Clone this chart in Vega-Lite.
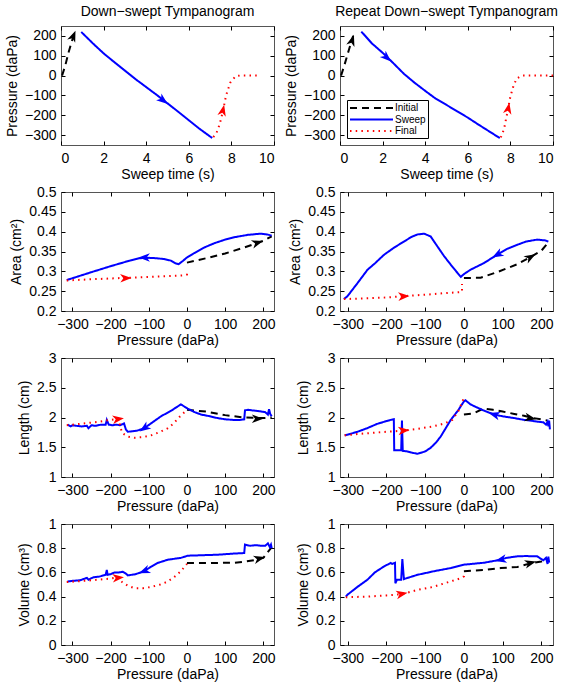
{
  "$schema": "https://vega.github.io/schema/vega-lite/v6.json",
  "padding": {"left": 4, "top": 4, "right": 6, "bottom": 4},
  "background": "white",
  "columns": 2,
  "spacing": {"row": 47, "column": 66},
  "bounds": "flush",
  "datasets": {
    "c1": [
      {"s":"Initial","x":0.05,"y":0},{"s":"Initial","x":0.2,"y":50},{"s":"Initial","x":0.35,"y":115},{"s":"Initial","x":0.5,"y":170},{"s":"Initial","x":0.65,"y":220},
      {"s":"Sweep","x":0.95,"y":220},{"s":"Sweep","x":1.5,"y":162},{"s":"Sweep","x":2,"y":112},{"s":"Sweep","x":2.5,"y":68},{"s":"Sweep","x":3,"y":25},{"s":"Sweep","x":3.5,"y":-18},{"s":"Sweep","x":4,"y":-58},{"s":"Sweep","x":4.5,"y":-98},{"s":"Sweep","x":5,"y":-140},{"s":"Sweep","x":5.5,"y":-182},{"s":"Sweep","x":6,"y":-225},{"s":"Sweep","x":6.5,"y":-268},{"s":"Sweep","x":7.1,"y":-315},
      {"s":"Final","x":7.15,"y":-310},{"s":"Final","x":7.3,"y":-290},{"s":"Final","x":7.45,"y":-245},{"s":"Final","x":7.6,"y":-180},{"s":"Final","x":7.75,"y":-100},{"s":"Final","x":7.95,"y":-35},{"s":"Final","x":8.2,"y":-3},{"s":"Final","x":8.4,"y":0},{"s":"Final","x":9.2,"y":0}
    ],
    "a1": [
      {"s":"Initial","x":0.58,"y":200,"a":-68},{"s":"Sweep","x":4.8,"y":-125,"a":38},{"s":"Final","x":7.6,"y":-175,"a":-77}
    ],
    "c2": [
      {"s":"Initial","x":0.05,"y":0},{"s":"Initial","x":0.2,"y":50},{"s":"Initial","x":0.35,"y":105},{"s":"Initial","x":0.5,"y":160},{"s":"Initial","x":0.62,"y":200},
      {"s":"Sweep","x":1.0,"y":222},{"s":"Sweep","x":1.5,"y":162},{"s":"Sweep","x":2.0,"y":115},{"s":"Sweep","x":2.5,"y":63},{"s":"Sweep","x":3.0,"y":9},{"s":"Sweep","x":3.5,"y":-36},{"s":"Sweep","x":4.0,"y":-77},{"s":"Sweep","x":4.5,"y":-117},{"s":"Sweep","x":5.0,"y":-148},{"s":"Sweep","x":5.5,"y":-180},{"s":"Sweep","x":6.0,"y":-212},{"s":"Sweep","x":6.5,"y":-247},{"s":"Sweep","x":7.0,"y":-281},{"s":"Sweep","x":7.5,"y":-315},
      {"s":"Final","x":7.55,"y":-312},{"s":"Final","x":7.7,"y":-270},{"s":"Final","x":7.85,"y":-190},{"s":"Final","x":8.0,"y":-105},{"s":"Final","x":8.15,"y":-50},{"s":"Final","x":8.3,"y":-14},{"s":"Final","x":8.55,"y":0},{"s":"Final","x":10,"y":0}
    ],
    "a2": [
      {"s":"Initial","x":0.57,"y":178,"a":-72},{"s":"Sweep","x":2.2,"y":90,"a":43},{"s":"Final","x":7.9,"y":-165,"a":-79}
    ],
    "c3": [
      {"s":"Initial","x":0,"y":0.322},{"s":"Initial","x":50,"y":0.333},{"s":"Initial","x":100,"y":0.345},{"s":"Initial","x":150,"y":0.36},{"s":"Initial","x":200,"y":0.377},{"s":"Initial","x":222,"y":0.388},
      {"s":"Sweep","x":222,"y":0.39},{"s":"Sweep","x":210,"y":0.393},{"s":"Sweep","x":194,"y":0.395},{"s":"Sweep","x":160,"y":0.392},{"s":"Sweep","x":124,"y":0.386},{"s":"Sweep","x":100,"y":0.38},{"s":"Sweep","x":72,"y":0.371},{"s":"Sweep","x":45,"y":0.36},{"s":"Sweep","x":19,"y":0.346},{"s":"Sweep","x":0,"y":0.335},{"s":"Sweep","x":-11,"y":0.326},{"s":"Sweep","x":-22,"y":0.318},{"s":"Sweep","x":-30,"y":0.32},{"s":"Sweep","x":-42,"y":0.327},{"s":"Sweep","x":-60,"y":0.331},{"s":"Sweep","x":-80,"y":0.333},{"s":"Sweep","x":-100,"y":0.334},{"s":"Sweep","x":-125,"y":0.333},{"s":"Sweep","x":-150,"y":0.327},{"s":"Sweep","x":-200,"y":0.313},{"s":"Sweep","x":-250,"y":0.298},{"s":"Sweep","x":-315,"y":0.278},
      {"s":"Final","x":-315,"y":0.277},{"s":"Final","x":-250,"y":0.28},{"s":"Final","x":-200,"y":0.282},{"s":"Final","x":-150,"y":0.284},{"s":"Final","x":-100,"y":0.286},{"s":"Final","x":-50,"y":0.288},{"s":"Final","x":-5,"y":0.29},{"s":"Final","x":0,"y":0.292},{"s":"Final","x":0,"y":0.303}
    ],
    "a3": [
      {"s":"Initial","x":185,"y":0.372,"a":-17},{"s":"Sweep","x":-112,"y":0.335,"a":180},{"s":"Final","x":-160,"y":0.283,"a":-2}
    ],
    "c4": [
      {"s":"Initial","x":0,"y":0.283},{"s":"Initial","x":43,"y":0.284},{"s":"Initial","x":86,"y":0.298},{"s":"Initial","x":138,"y":0.318},{"s":"Initial","x":177,"y":0.339},{"s":"Initial","x":200,"y":0.352},{"s":"Initial","x":218,"y":0.373},
      {"s":"Sweep","x":218,"y":0.375},{"s":"Sweep","x":210,"y":0.378},{"s":"Sweep","x":189,"y":0.38},{"s":"Sweep","x":160,"y":0.375},{"s":"Sweep","x":138,"y":0.367},{"s":"Sweep","x":110,"y":0.356},{"s":"Sweep","x":86,"y":0.342},{"s":"Sweep","x":52,"y":0.321},{"s":"Sweep","x":17,"y":0.304},{"s":"Sweep","x":0,"y":0.293},{"s":"Sweep","x":-8,"y":0.286},{"s":"Sweep","x":-20,"y":0.3},{"s":"Sweep","x":-35,"y":0.318},{"s":"Sweep","x":-51,"y":0.338},{"s":"Sweep","x":-70,"y":0.365},{"s":"Sweep","x":-86,"y":0.388},{"s":"Sweep","x":-103,"y":0.395},{"s":"Sweep","x":-120,"y":0.393},{"s":"Sweep","x":-135,"y":0.387},{"s":"Sweep","x":-155,"y":0.375},{"s":"Sweep","x":-180,"y":0.36},{"s":"Sweep","x":-206,"y":0.342},{"s":"Sweep","x":-230,"y":0.32},{"s":"Sweep","x":-249,"y":0.304},{"s":"Sweep","x":-275,"y":0.27},{"s":"Sweep","x":-301,"y":0.237},{"s":"Sweep","x":-310,"y":0.23},
      {"s":"Final","x":-310,"y":0.23},{"s":"Final","x":-250,"y":0.232},{"s":"Final","x":-200,"y":0.234},{"s":"Final","x":-163,"y":0.237},{"s":"Final","x":-100,"y":0.241},{"s":"Final","x":-50,"y":0.245},{"s":"Final","x":-5,"y":0.248},{"s":"Final","x":-5,"y":0.268}
    ],
    "a4": [
      {"s":"Initial","x":172,"y":0.336,"a":-30},{"s":"Sweep","x":86,"y":0.342,"a":151},{"s":"Final","x":-155,"y":0.237,"a":-3}
    ],
    "c5": [
      {"s":"Initial","x":0,"y":2.13},{"s":"Initial","x":50,"y":2.1},{"s":"Initial","x":100,"y":2.04},{"s":"Initial","x":150,"y":2.0},{"s":"Initial","x":200,"y":1.99},{"s":"Initial","x":222,"y":2.0},
      {"s":"Sweep","x":222,"y":2.02},{"s":"Sweep","x":218,"y":2.06},{"s":"Sweep","x":215,"y":2.14},{"s":"Sweep","x":212,"y":2.05},{"s":"Sweep","x":205,"y":2.09},{"s":"Sweep","x":195,"y":2.1},{"s":"Sweep","x":185,"y":2.11},{"s":"Sweep","x":170,"y":2.12},{"s":"Sweep","x":160,"y":2.13},{"s":"Sweep","x":152,"y":2.12},{"s":"Sweep","x":150,"y":1.97},{"s":"Sweep","x":140,"y":1.96},{"s":"Sweep","x":120,"y":1.96},{"s":"Sweep","x":100,"y":1.97},{"s":"Sweep","x":80,"y":1.99},{"s":"Sweep","x":60,"y":2.02},{"s":"Sweep","x":37,"y":2.05},{"s":"Sweep","x":20,"y":2.09},{"s":"Sweep","x":2,"y":2.15},{"s":"Sweep","x":-16,"y":2.22},{"s":"Sweep","x":-40,"y":2.12},{"s":"Sweep","x":-68,"y":2.02},{"s":"Sweep","x":-90,"y":1.92},{"s":"Sweep","x":-112,"y":1.82},{"s":"Sweep","x":-130,"y":1.78},{"s":"Sweep","x":-155,"y":1.76},{"s":"Sweep","x":-160,"y":1.8},{"s":"Sweep","x":-165,"y":1.9},{"s":"Sweep","x":-175,"y":1.87},{"s":"Sweep","x":-185,"y":1.88},{"s":"Sweep","x":-195,"y":1.87},{"s":"Sweep","x":-205,"y":1.88},{"s":"Sweep","x":-210,"y":1.96},{"s":"Sweep","x":-213,"y":1.88},{"s":"Sweep","x":-225,"y":1.88},{"s":"Sweep","x":-240,"y":1.86},{"s":"Sweep","x":-250,"y":1.87},{"s":"Sweep","x":-258,"y":1.82},{"s":"Sweep","x":-262,"y":1.86},{"s":"Sweep","x":-275,"y":1.85},{"s":"Sweep","x":-290,"y":1.86},{"s":"Sweep","x":-300,"y":1.87},{"s":"Sweep","x":-305,"y":1.85},{"s":"Sweep","x":-313,"y":1.88},
      {"s":"Final","x":-315,"y":1.87},{"s":"Final","x":-270,"y":1.9},{"s":"Final","x":-230,"y":1.93},{"s":"Final","x":-200,"y":1.96},{"s":"Final","x":-180,"y":1.98},{"s":"Final","x":-170,"y":1.74},{"s":"Final","x":-155,"y":1.68},{"s":"Final","x":-138,"y":1.66},{"s":"Final","x":-115,"y":1.67},{"s":"Final","x":-94,"y":1.7},{"s":"Final","x":-70,"y":1.76},{"s":"Final","x":-50,"y":1.82},{"s":"Final","x":-35,"y":1.9},{"s":"Final","x":-24,"y":1.98},{"s":"Final","x":-12,"y":2.06},{"s":"Final","x":0,"y":2.12}
    ],
    "a5": [
      {"s":"Initial","x":185,"y":1.98,"a":0},{"s":"Sweep","x":-112,"y":1.82,"a":145},{"s":"Final","x":-180,"y":1.975,"a":-8}
    ],
    "c6": [
      {"s":"Initial","x":0,"y":2.05},{"s":"Initial","x":25,"y":2.07},{"s":"Initial","x":50,"y":2.15},{"s":"Initial","x":75,"y":2.13},{"s":"Initial","x":100,"y":2.1},{"s":"Initial","x":130,"y":2.06},{"s":"Initial","x":155,"y":2.03},{"s":"Initial","x":180,"y":1.99},{"s":"Initial","x":215,"y":1.95},
      {"s":"Sweep","x":222,"y":1.8},{"s":"Sweep","x":220,"y":1.95},{"s":"Sweep","x":218,"y":1.85},{"s":"Sweep","x":216,"y":1.93},{"s":"Sweep","x":212,"y":1.88},{"s":"Sweep","x":205,"y":1.92},{"s":"Sweep","x":190,"y":1.93},{"s":"Sweep","x":170,"y":1.95},{"s":"Sweep","x":155,"y":1.96},{"s":"Sweep","x":130,"y":1.99},{"s":"Sweep","x":100,"y":2.02},{"s":"Sweep","x":78,"y":2.05},{"s":"Sweep","x":50,"y":2.12},{"s":"Sweep","x":30,"y":2.18},{"s":"Sweep","x":17,"y":2.22},{"s":"Sweep","x":4,"y":2.29},{"s":"Sweep","x":0,"y":2.27},{"s":"Sweep","x":-15,"y":2.12},{"s":"Sweep","x":-34,"y":1.96},{"s":"Sweep","x":-47,"y":1.82},{"s":"Sweep","x":-60,"y":1.68},{"s":"Sweep","x":-72,"y":1.58},{"s":"Sweep","x":-86,"y":1.49},{"s":"Sweep","x":-100,"y":1.43},{"s":"Sweep","x":-120,"y":1.39},{"s":"Sweep","x":-135,"y":1.41},{"s":"Sweep","x":-146,"y":1.43},{"s":"Sweep","x":-158,"y":1.44},{"s":"Sweep","x":-160,"y":1.95},{"s":"Sweep","x":-162,"y":1.45},{"s":"Sweep","x":-172,"y":1.45},{"s":"Sweep","x":-180,"y":1.45},{"s":"Sweep","x":-181,"y":1.97},{"s":"Sweep","x":-189,"y":1.96},{"s":"Sweep","x":-200,"y":1.94},{"s":"Sweep","x":-210,"y":1.92},{"s":"Sweep","x":-225,"y":1.89},{"s":"Sweep","x":-250,"y":1.82},{"s":"Sweep","x":-275,"y":1.76},{"s":"Sweep","x":-301,"y":1.71},{"s":"Sweep","x":-308,"y":1.7},
      {"s":"Final","x":-308,"y":1.7},{"s":"Final","x":-260,"y":1.73},{"s":"Final","x":-200,"y":1.76},{"s":"Final","x":-155,"y":1.78},{"s":"Final","x":-120,"y":1.81},{"s":"Final","x":-80,"y":1.85},{"s":"Final","x":-50,"y":1.9},{"s":"Final","x":-30,"y":1.96},{"s":"Final","x":-15,"y":2.1},{"s":"Final","x":-5,"y":2.25},{"s":"Final","x":0,"y":2.33}
    ],
    "a6": [
      {"s":"Initial","x":172,"y":1.99,"a":11},{"s":"Sweep","x":78,"y":2.05,"a":196},{"s":"Final","x":-155,"y":1.78,"a":-5}
    ],
    "c7": [
      {"s":"Initial","x":0,"y":0.678},{"s":"Initial","x":60,"y":0.678},{"s":"Initial","x":124,"y":0.68},{"s":"Initial","x":150,"y":0.688},{"s":"Initial","x":175,"y":0.7},{"s":"Initial","x":200,"y":0.72},{"s":"Initial","x":220,"y":0.8},
      {"s":"Sweep","x":222,"y":0.8},{"s":"Sweep","x":220,"y":0.83},{"s":"Sweep","x":217,"y":0.81},{"s":"Sweep","x":212,"y":0.84},{"s":"Sweep","x":205,"y":0.82},{"s":"Sweep","x":195,"y":0.82},{"s":"Sweep","x":180,"y":0.825},{"s":"Sweep","x":165,"y":0.82},{"s":"Sweep","x":152,"y":0.83},{"s":"Sweep","x":150,"y":0.76},{"s":"Sweep","x":120,"y":0.755},{"s":"Sweep","x":80,"y":0.746},{"s":"Sweep","x":40,"y":0.742},{"s":"Sweep","x":2,"y":0.738},{"s":"Sweep","x":-16,"y":0.72},{"s":"Sweep","x":-50,"y":0.705},{"s":"Sweep","x":-77,"y":0.678},{"s":"Sweep","x":-95,"y":0.645},{"s":"Sweep","x":-112,"y":0.61},{"s":"Sweep","x":-135,"y":0.585},{"s":"Sweep","x":-155,"y":0.575},{"s":"Sweep","x":-160,"y":0.59},{"s":"Sweep","x":-168,"y":0.605},{"s":"Sweep","x":-178,"y":0.6},{"s":"Sweep","x":-190,"y":0.6},{"s":"Sweep","x":-200,"y":0.585},{"s":"Sweep","x":-208,"y":0.58},{"s":"Sweep","x":-210,"y":0.62},{"s":"Sweep","x":-213,"y":0.58},{"s":"Sweep","x":-230,"y":0.565},{"s":"Sweep","x":-245,"y":0.56},{"s":"Sweep","x":-258,"y":0.54},{"s":"Sweep","x":-262,"y":0.555},{"s":"Sweep","x":-280,"y":0.535},{"s":"Sweep","x":-300,"y":0.53},{"s":"Sweep","x":-313,"y":0.525},
      {"s":"Final","x":-315,"y":0.52},{"s":"Final","x":-270,"y":0.53},{"s":"Final","x":-230,"y":0.54},{"s":"Final","x":-200,"y":0.55},{"s":"Final","x":-180,"y":0.56},{"s":"Final","x":-170,"y":0.52},{"s":"Final","x":-155,"y":0.49},{"s":"Final","x":-138,"y":0.47},{"s":"Final","x":-115,"y":0.47},{"s":"Final","x":-94,"y":0.48},{"s":"Final","x":-70,"y":0.5},{"s":"Final","x":-50,"y":0.525},{"s":"Final","x":-30,"y":0.57},{"s":"Final","x":-16,"y":0.61},{"s":"Final","x":0,"y":0.67}
    ],
    "a7": [
      {"s":"Initial","x":190,"y":0.715,"a":-15},{"s":"Sweep","x":-112,"y":0.61,"a":158},{"s":"Final","x":-180,"y":0.555,"a":-5}
    ],
    "c8": [
      {"s":"Initial","x":0,"y":0.61},{"s":"Initial","x":52,"y":0.62},{"s":"Initial","x":95,"y":0.636},{"s":"Initial","x":138,"y":0.645},{"s":"Initial","x":172,"y":0.675},{"s":"Initial","x":200,"y":0.69},{"s":"Initial","x":215,"y":0.7},
      {"s":"Sweep","x":220,"y":0.68},{"s":"Sweep","x":218,"y":0.73},{"s":"Sweep","x":216,"y":0.67},{"s":"Sweep","x":212,"y":0.72},{"s":"Sweep","x":205,"y":0.7},{"s":"Sweep","x":189,"y":0.733},{"s":"Sweep","x":160,"y":0.735},{"s":"Sweep","x":138,"y":0.733},{"s":"Sweep","x":110,"y":0.72},{"s":"Sweep","x":95,"y":0.705},{"s":"Sweep","x":52,"y":0.68},{"s":"Sweep","x":20,"y":0.67},{"s":"Sweep","x":0,"y":0.664},{"s":"Sweep","x":-34,"y":0.636},{"s":"Sweep","x":-77,"y":0.61},{"s":"Sweep","x":-120,"y":0.58},{"s":"Sweep","x":-155,"y":0.545},{"s":"Sweep","x":-159,"y":0.71},{"s":"Sweep","x":-162,"y":0.54},{"s":"Sweep","x":-173,"y":0.54},{"s":"Sweep","x":-177,"y":0.51},{"s":"Sweep","x":-178,"y":0.68},{"s":"Sweep","x":-185,"y":0.67},{"s":"Sweep","x":-189,"y":0.678},{"s":"Sweep","x":-206,"y":0.65},{"s":"Sweep","x":-230,"y":0.6},{"s":"Sweep","x":-249,"y":0.54},{"s":"Sweep","x":-275,"y":0.48},{"s":"Sweep","x":-301,"y":0.415},{"s":"Sweep","x":-305,"y":0.4},
      {"s":"Final","x":-305,"y":0.395},{"s":"Final","x":-250,"y":0.4},{"s":"Final","x":-200,"y":0.41},{"s":"Final","x":-160,"y":0.42},{"s":"Final","x":-120,"y":0.455},{"s":"Final","x":-80,"y":0.48},{"s":"Final","x":-40,"y":0.52},{"s":"Final","x":-10,"y":0.55},{"s":"Final","x":0,"y":0.567},{"s":"Final","x":0,"y":0.605}
    ],
    "a8": [
      {"s":"Initial","x":172,"y":0.678,"a":-14},{"s":"Sweep","x":95,"y":0.705,"a":168},{"s":"Final","x":-160,"y":0.422,"a":-11}
    ]
  },
  "concat": [
    {
      "width": 213, "height": 119,
      "title": "Down\u2212swept Tympanogram",
      "layer": [
        {"data": {"name": "c1"}, "mark": {"type": "line", "strokeCap": "butt"},
         "encoding": {
           "x": {"field": "x", "type": "quantitative", "scale": {"domain": [0, 10], "nice": false, "zero": false}, "axis": {"title": "Sweep time (s)", "values": [0,2,4,6,8,10]}},
           "y": {"field": "y", "type": "quantitative", "scale": {"domain": [-350, 250], "nice": false, "zero": false}, "axis": {"title": "Pressure (daPa)", "values": [-300,-200,-100,0,100,200]}},
           "color": {"field": "s", "type": "nominal", "scale": {"domain": ["Initial","Sweep","Final"], "range": ["#000000","#0000ff","#ff0000"]}, "legend": null},
           "strokeDash": {"field": "s", "type": "nominal", "scale": {"domain": ["Initial","Sweep","Final"], "range": [[7,5],[1,0],[1.5,4.2]]}, "legend": null},
           "strokeWidth": {"field": "s", "type": "nominal", "scale": {"domain": ["Initial","Sweep","Final"], "range": [2,2,1.3]}, "legend": null},
           "order": {"value": null}
         }},
        {"data": {"name": "a1"}, "mark": {"type": "point", "filled": true, "opacity": 1, "size": 130, "shape": "M1,0L-1,-0.75L-0.45,0L-1,0.75Z"},
         "encoding": {
           "x": {"field": "x", "type": "quantitative", "axis": {"orient": "top", "labels": false, "title": null, "values": [0,2,4,6,8,10]}},
           "y": {"field": "y", "type": "quantitative", "axis": {"orient": "right", "labels": false, "title": null, "values": [-300,-200,-100,0,100,200]}},
           "color": {"field": "s", "type": "nominal", "legend": null},
           "angle": {"field": "a", "type": "quantitative", "scale": null}
         }}
      ],
      "resolve": {"axis": {"x": "independent", "y": "independent"}}
    },
    {
      "width": 213, "height": 119,
      "title": "Repeat Down\u2212swept Tympanogram",
      "layer": [
        {"data": {"name": "c2"}, "mark": {"type": "line", "strokeCap": "butt"},
         "encoding": {
           "x": {"field": "x", "type": "quantitative", "scale": {"domain": [0, 10], "nice": false, "zero": false}, "axis": {"title": "Sweep time (s)", "values": [0,2,4,6,8,10]}},
           "y": {"field": "y", "type": "quantitative", "scale": {"domain": [-350, 250], "nice": false, "zero": false}, "axis": {"title": "Pressure (daPa)", "values": [-300,-200,-100,0,100,200]}},
           "color": {"field": "s", "type": "nominal", "scale": {"domain": ["Initial","Sweep","Final"], "range": ["#000000","#0000ff","#ff0000"]},
             "legend": {"title": null, "orient": "bottom-left", "offset": 7, "symbolType": "M-1,0H7.6", "symbolSize": 100, "labelFontSize": 10, "strokeColor": "#000000", "fillColor": "#ffffff", "padding": 2, "rowPadding": 0.5, "labelOffset": 34}},
           "strokeDash": {"field": "s", "type": "nominal", "scale": {"domain": ["Initial","Sweep","Final"], "range": [[7,5],[1,0],[1.5,4.2]]}, "legend": {"title": null}},
           "strokeWidth": {"field": "s", "type": "nominal", "scale": {"domain": ["Initial","Sweep","Final"], "range": [2,2,1.3]}, "legend": {"title": null}},
           "order": {"value": null}
         }},
        {"data": {"name": "a2"}, "mark": {"type": "point", "filled": true, "opacity": 1, "size": 130, "shape": "M1,0L-1,-0.75L-0.45,0L-1,0.75Z"},
         "encoding": {
           "x": {"field": "x", "type": "quantitative", "axis": {"orient": "top", "labels": false, "title": null, "values": [0,2,4,6,8,10]}},
           "y": {"field": "y", "type": "quantitative", "axis": {"orient": "right", "labels": false, "title": null, "values": [-300,-200,-100,0,100,200]}},
           "color": {"field": "s", "type": "nominal", "legend": null},
           "angle": {"field": "a", "type": "quantitative", "scale": null}
         }}
      ],
      "resolve": {"axis": {"x": "independent", "y": "independent"}}
    },
    {
      "width": 213, "height": 119,
      "layer": [
        {"data": {"name": "c3"}, "mark": {"type": "line", "strokeCap": "butt"},
         "encoding": {
           "x": {"field": "x", "type": "quantitative", "scale": {"domain": [-330, 228], "nice": false, "zero": false}, "axis": {"title": "Pressure (daPa)", "values": [-300,-200,-100,0,100,200]}},
           "y": {"field": "y", "type": "quantitative", "scale": {"domain": [0.2, 0.5], "nice": false, "zero": false}, "axis": {"title": "Area (cm\u00b2)", "values": [0.2,0.25,0.3,0.35,0.4,0.45,0.5]}},
           "color": {"field": "s", "type": "nominal", "scale": {"domain": ["Initial","Sweep","Final"], "range": ["#000000","#0000ff","#ff0000"]}, "legend": null},
           "strokeDash": {"field": "s", "type": "nominal", "scale": {"domain": ["Initial","Sweep","Final"], "range": [[7,5],[1,0],[1.5,4.2]]}, "legend": null},
           "strokeWidth": {"field": "s", "type": "nominal", "scale": {"domain": ["Initial","Sweep","Final"], "range": [2,2,1.3]}, "legend": null},
           "order": {"value": null}
         }},
        {"data": {"name": "a3"}, "mark": {"type": "point", "filled": true, "opacity": 1, "size": 130, "shape": "M1,0L-1,-0.75L-0.45,0L-1,0.75Z"},
         "encoding": {
           "x": {"field": "x", "type": "quantitative", "axis": {"orient": "top", "labels": false, "title": null, "values": [-300,-200,-100,0,100,200]}},
           "y": {"field": "y", "type": "quantitative", "axis": {"orient": "right", "labels": false, "title": null, "values": [0.2,0.25,0.3,0.35,0.4,0.45,0.5]}},
           "color": {"field": "s", "type": "nominal", "legend": null},
           "angle": {"field": "a", "type": "quantitative", "scale": null}
         }}
      ],
      "resolve": {"axis": {"x": "independent", "y": "independent"}}
    },
    {
      "width": 213, "height": 119,
      "layer": [
        {"data": {"name": "c4"}, "mark": {"type": "line", "strokeCap": "butt"},
         "encoding": {
           "x": {"field": "x", "type": "quantitative", "scale": {"domain": [-320, 230], "nice": false, "zero": false}, "axis": {"title": "Pressure (daPa)", "values": [-300,-200,-100,0,100,200]}},
           "y": {"field": "y", "type": "quantitative", "scale": {"domain": [0.2, 0.5], "nice": false, "zero": false}, "axis": {"title": "Area (cm\u00b2)", "values": [0.2,0.25,0.3,0.35,0.4,0.45,0.5]}},
           "color": {"field": "s", "type": "nominal", "scale": {"domain": ["Initial","Sweep","Final"], "range": ["#000000","#0000ff","#ff0000"]}, "legend": null},
           "strokeDash": {"field": "s", "type": "nominal", "scale": {"domain": ["Initial","Sweep","Final"], "range": [[7,5],[1,0],[1.5,4.2]]}, "legend": null},
           "strokeWidth": {"field": "s", "type": "nominal", "scale": {"domain": ["Initial","Sweep","Final"], "range": [2,2,1.3]}, "legend": null},
           "order": {"value": null}
         }},
        {"data": {"name": "a4"}, "mark": {"type": "point", "filled": true, "opacity": 1, "size": 130, "shape": "M1,0L-1,-0.75L-0.45,0L-1,0.75Z"},
         "encoding": {
           "x": {"field": "x", "type": "quantitative", "axis": {"orient": "top", "labels": false, "title": null, "values": [-300,-200,-100,0,100,200]}},
           "y": {"field": "y", "type": "quantitative", "axis": {"orient": "right", "labels": false, "title": null, "values": [0.2,0.25,0.3,0.35,0.4,0.45,0.5]}},
           "color": {"field": "s", "type": "nominal", "legend": null},
           "angle": {"field": "a", "type": "quantitative", "scale": null}
         }}
      ],
      "resolve": {"axis": {"x": "independent", "y": "independent"}}
    },
    {
      "width": 213, "height": 119,
      "layer": [
        {"data": {"name": "c5"}, "mark": {"type": "line", "strokeCap": "butt"},
         "encoding": {
           "x": {"field": "x", "type": "quantitative", "scale": {"domain": [-330, 228], "nice": false, "zero": false}, "axis": {"title": "Pressure (daPa)", "values": [-300,-200,-100,0,100,200]}},
           "y": {"field": "y", "type": "quantitative", "scale": {"domain": [1, 3], "nice": false, "zero": false}, "axis": {"title": "Length (cm)", "values": [1,1.5,2,2.5,3]}},
           "color": {"field": "s", "type": "nominal", "scale": {"domain": ["Initial","Sweep","Final"], "range": ["#000000","#0000ff","#ff0000"]}, "legend": null},
           "strokeDash": {"field": "s", "type": "nominal", "scale": {"domain": ["Initial","Sweep","Final"], "range": [[7,5],[1,0],[1.5,4.2]]}, "legend": null},
           "strokeWidth": {"field": "s", "type": "nominal", "scale": {"domain": ["Initial","Sweep","Final"], "range": [2,2,1.3]}, "legend": null},
           "order": {"value": null}
         }},
        {"data": {"name": "a5"}, "mark": {"type": "point", "filled": true, "opacity": 1, "size": 130, "shape": "M1,0L-1,-0.75L-0.45,0L-1,0.75Z"},
         "encoding": {
           "x": {"field": "x", "type": "quantitative", "axis": {"orient": "top", "labels": false, "title": null, "values": [-300,-200,-100,0,100,200]}},
           "y": {"field": "y", "type": "quantitative", "axis": {"orient": "right", "labels": false, "title": null, "values": [1,1.5,2,2.5,3]}},
           "color": {"field": "s", "type": "nominal", "legend": null},
           "angle": {"field": "a", "type": "quantitative", "scale": null}
         }}
      ],
      "resolve": {"axis": {"x": "independent", "y": "independent"}}
    },
    {
      "width": 213, "height": 119,
      "layer": [
        {"data": {"name": "c6"}, "mark": {"type": "line", "strokeCap": "butt"},
         "encoding": {
           "x": {"field": "x", "type": "quantitative", "scale": {"domain": [-320, 230], "nice": false, "zero": false}, "axis": {"title": "Pressure (daPa)", "values": [-300,-200,-100,0,100,200]}},
           "y": {"field": "y", "type": "quantitative", "scale": {"domain": [1, 3], "nice": false, "zero": false}, "axis": {"title": "Length (cm)", "values": [1,1.5,2,2.5,3]}},
           "color": {"field": "s", "type": "nominal", "scale": {"domain": ["Initial","Sweep","Final"], "range": ["#000000","#0000ff","#ff0000"]}, "legend": null},
           "strokeDash": {"field": "s", "type": "nominal", "scale": {"domain": ["Initial","Sweep","Final"], "range": [[7,5],[1,0],[1.5,4.2]]}, "legend": null},
           "strokeWidth": {"field": "s", "type": "nominal", "scale": {"domain": ["Initial","Sweep","Final"], "range": [2,2,1.3]}, "legend": null},
           "order": {"value": null}
         }},
        {"data": {"name": "a6"}, "mark": {"type": "point", "filled": true, "opacity": 1, "size": 130, "shape": "M1,0L-1,-0.75L-0.45,0L-1,0.75Z"},
         "encoding": {
           "x": {"field": "x", "type": "quantitative", "axis": {"orient": "top", "labels": false, "title": null, "values": [-300,-200,-100,0,100,200]}},
           "y": {"field": "y", "type": "quantitative", "axis": {"orient": "right", "labels": false, "title": null, "values": [1,1.5,2,2.5,3]}},
           "color": {"field": "s", "type": "nominal", "legend": null},
           "angle": {"field": "a", "type": "quantitative", "scale": null}
         }}
      ],
      "resolve": {"axis": {"x": "independent", "y": "independent"}}
    },
    {
      "width": 213, "height": 121,
      "layer": [
        {"data": {"name": "c7"}, "mark": {"type": "line", "strokeCap": "butt"},
         "encoding": {
           "x": {"field": "x", "type": "quantitative", "scale": {"domain": [-330, 228], "nice": false, "zero": false}, "axis": {"title": "Pressure (daPa)", "values": [-300,-200,-100,0,100,200]}},
           "y": {"field": "y", "type": "quantitative", "scale": {"domain": [0, 1], "nice": false, "zero": false}, "axis": {"title": "Volume (cm\u00b3)", "values": [0,0.2,0.4,0.6,0.8,1]}},
           "color": {"field": "s", "type": "nominal", "scale": {"domain": ["Initial","Sweep","Final"], "range": ["#000000","#0000ff","#ff0000"]}, "legend": null},
           "strokeDash": {"field": "s", "type": "nominal", "scale": {"domain": ["Initial","Sweep","Final"], "range": [[7,5],[1,0],[1.5,4.2]]}, "legend": null},
           "strokeWidth": {"field": "s", "type": "nominal", "scale": {"domain": ["Initial","Sweep","Final"], "range": [2,2,1.3]}, "legend": null},
           "order": {"value": null}
         }},
        {"data": {"name": "a7"}, "mark": {"type": "point", "filled": true, "opacity": 1, "size": 130, "shape": "M1,0L-1,-0.75L-0.45,0L-1,0.75Z"},
         "encoding": {
           "x": {"field": "x", "type": "quantitative", "axis": {"orient": "top", "labels": false, "title": null, "values": [-300,-200,-100,0,100,200]}},
           "y": {"field": "y", "type": "quantitative", "axis": {"orient": "right", "labels": false, "title": null, "values": [0,0.2,0.4,0.6,0.8,1]}},
           "color": {"field": "s", "type": "nominal", "legend": null},
           "angle": {"field": "a", "type": "quantitative", "scale": null}
         }}
      ],
      "resolve": {"axis": {"x": "independent", "y": "independent"}}
    },
    {
      "width": 213, "height": 121,
      "layer": [
        {"data": {"name": "c8"}, "mark": {"type": "line", "strokeCap": "butt"},
         "encoding": {
           "x": {"field": "x", "type": "quantitative", "scale": {"domain": [-320, 230], "nice": false, "zero": false}, "axis": {"title": "Pressure (daPa)", "values": [-300,-200,-100,0,100,200]}},
           "y": {"field": "y", "type": "quantitative", "scale": {"domain": [0, 1], "nice": false, "zero": false}, "axis": {"title": "Volume (cm\u00b3)", "values": [0,0.2,0.4,0.6,0.8,1]}},
           "color": {"field": "s", "type": "nominal", "scale": {"domain": ["Initial","Sweep","Final"], "range": ["#000000","#0000ff","#ff0000"]}, "legend": null},
           "strokeDash": {"field": "s", "type": "nominal", "scale": {"domain": ["Initial","Sweep","Final"], "range": [[7,5],[1,0],[1.5,4.2]]}, "legend": null},
           "strokeWidth": {"field": "s", "type": "nominal", "scale": {"domain": ["Initial","Sweep","Final"], "range": [2,2,1.3]}, "legend": null},
           "order": {"value": null}
         }},
        {"data": {"name": "a8"}, "mark": {"type": "point", "filled": true, "opacity": 1, "size": 130, "shape": "M1,0L-1,-0.75L-0.45,0L-1,0.75Z"},
         "encoding": {
           "x": {"field": "x", "type": "quantitative", "axis": {"orient": "top", "labels": false, "title": null, "values": [-300,-200,-100,0,100,200]}},
           "y": {"field": "y", "type": "quantitative", "axis": {"orient": "right", "labels": false, "title": null, "values": [0,0.2,0.4,0.6,0.8,1]}},
           "color": {"field": "s", "type": "nominal", "legend": null},
           "angle": {"field": "a", "type": "quantitative", "scale": null}
         }}
      ],
      "resolve": {"axis": {"x": "independent", "y": "independent"}}
    }
  ],
  "resolve": {
    "scale": {"color": "independent", "strokeDash": "independent", "strokeWidth": "independent"},
    "legend": {"color": "independent", "strokeDash": "independent", "strokeWidth": "independent"}
  },
  "config": {
    "font": "Liberation Sans",
    "view": {"stroke": "#555555", "strokeWidth": 1},
    "axis": {"grid": false, "domain": false, "tickColor": "#000000", "tickSize": -4, "labelFontSize": 14, "titleFontSize": 14, "titleFontWeight": "normal", "labelColor": "#000000", "titleColor": "#000000", "format": "~r"},
    "axisX": {"titlePadding": 2, "labelPadding": 10},
    "axisY": {"titlePadding": 5, "labelPadding": 9},
    "title": {"fontSize": 14, "fontWeight": "normal", "offset": 7, "color": "#000000"},
    "legend": {"labelColor": "#000000", "labelFont": "Liberation Sans"}
  }
}
